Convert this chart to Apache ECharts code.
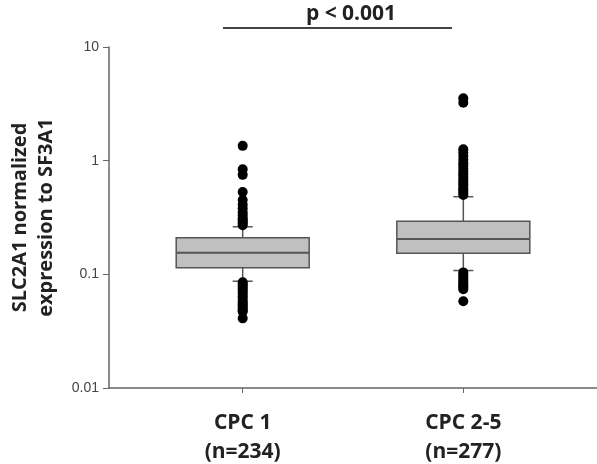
<!DOCTYPE html>
<html lang="en">

<head>
    <meta charset="UTF-8">
    <title>SLC2A1 boxplot</title>
    <script src="https://cdn.jsdelivr.net/npm/echarts@6/dist/echarts.min.js"></script>
</head>

<body style="margin:0;background-color:#fff;">
    <div id="main" style="position:absolute;left:0;top:0;width:597px;height:464px"></div>

    <script>
        // groups and their x position
        var groups = ['CPC 1', 'CPC 2-5'];
        var groupN = ['(n=234)', '(n=277)'];
        var groupX = [1, 2];
        // [lower whisker, Q1, median, Q3, upper whisker]
        var boxCPC1 = [0.087, 0.114, 0.155, 0.210, 0.262];
        var boxCPC25 = [0.108, 0.153, 0.205, 0.293, 0.482];
        // outliers
        var outCPC1 = [1.35, 0.84, 0.75, 0.53, 0.45, 0.41, 0.38, 0.35, 0.33, 0.31, 0.30, 0.29, 0.28, 0.27,
            0.085, 0.082, 0.079, 0.076, 0.073, 0.070, 0.067, 0.064, 0.061, 0.058, 0.056, 0.054, 0.052, 0.050, 0.048, 0.047, 0.041];
        var outCPC25 = [3.54, 3.24, 1.26, 1.18, 1.10, 1.02, 0.95, 0.90, 0.85, 0.80, 0.76, 0.72, 0.68, 0.65, 0.62, 0.59, 0.56, 0.54, 0.52, 0.50,
            0.104, 0.099, 0.095, 0.091, 0.087, 0.083, 0.080, 0.077, 0.074, 0.058];

        var boxData = [[groupX[0]].concat(boxCPC1), [groupX[1]].concat(boxCPC25)];
        var outData = [];
        outCPC1.forEach(v => outData.push([groupX[0], v]));
        outCPC25.forEach(v => outData.push([groupX[1], v]));

        var lineStyle = { stroke: '#555', lineWidth: 1.5 };

        var myCharts = echarts.init(document.getElementById('main'));
        myCharts.setOption({
            animation: false,
            title: {
                text: 'p < 0.001',
                left: 346,
                textAlign: 'center',
                top: -1,
                textStyle: { fontFamily: 'Open Sans', fontWeight: 'bold', fontSize: 21, color: '#222' }
            },
            graphic: [{
                type: 'line',
                shape: { x1: 223, y1: 28, x2: 452, y2: 28 },
                style: { stroke: '#444', lineWidth: 2 }
            }],
            grid: { left: 109, right: 0, top: 47, bottom: 76, outerBoundsMode: 'none', containLabel: false },
            xAxis: {
                type: 'value',
                min: 0.394,
                max: 2.606,
                splitLine: { show: false },
                axisLine: { lineStyle: { color: '#666', width: 1.5 } },
                axisTick: { customValues: groupX, length: 5, lineStyle: { color: '#666' } },
                axisLabel: {
                    customValues: groupX,
                    margin: 21,
                    lineHeight: 29,
                    fontFamily: 'Open Sans',
                    fontWeight: 'bold',
                    fontSize: 21,
                    color: '#222',
                    formatter: function(v) {
                        var i = groupX.indexOf(Math.round(v));
                        return i < 0 ? '' : groups[i] + '\n' + groupN[i];
                    }
                }
            },
            yAxis: {
                type: 'log',
                logBase: 10,
                min: 0.01,
                max: 10,
                name: 'SLC2A1 normalized\nexpression to SF3A1',
                nameLocation: 'middle',
                nameGap: 50,
                nameTextStyle: { fontFamily: 'Open Sans', fontWeight: 'bold', fontSize: 20, color: '#222', lineHeight: 26 },
                splitLine: { show: false },
                axisLine: { show: true, lineStyle: { color: '#666', width: 1.5 } },
                axisTick: { show: true, length: 6, lineStyle: { color: '#666' } },
                axisLabel: {
                    margin: 10,
                    fontFamily: 'Liberation Sans',
                    fontSize: 14,
                    color: '#444',
                    formatter: function(v) { return String(+v.toPrecision(3)); }
                }
            },
            series: [{
                type: 'custom',
                data: boxData,
                encode: { x: 0, y: [1, 2, 3, 4, 5] },
                renderItem: function(params, api) {
                    var x = api.value(0);
                    var pLo = api.coord([x, api.value(1)]);
                    var pQ1 = api.coord([x, api.value(2)]);
                    var pMed = api.coord([x, api.value(3)]);
                    var pQ3 = api.coord([x, api.value(4)]);
                    var pHi = api.coord([x, api.value(5)]);
                    var cx = pQ1[0], hw = 66.5, cap = 10;
                    return {
                        type: 'group',
                        children: [
                            { type: 'line', shape: { x1: cx, y1: pQ1[1], x2: cx, y2: pLo[1] }, style: lineStyle },
                            { type: 'line', shape: { x1: cx, y1: pQ3[1], x2: cx, y2: pHi[1] }, style: lineStyle },
                            { type: 'line', shape: { x1: cx - cap, y1: pLo[1], x2: cx + cap, y2: pLo[1] }, style: lineStyle },
                            { type: 'line', shape: { x1: cx - cap, y1: pHi[1], x2: cx + cap, y2: pHi[1] }, style: lineStyle },
                            { type: 'rect', shape: { x: cx - hw, y: pQ3[1], width: hw * 2, height: pQ1[1] - pQ3[1] },
                              style: { fill: '#c0c0c0', stroke: '#555', lineWidth: 1.5 } },
                            { type: 'line', shape: { x1: cx - hw, y1: pMed[1], x2: cx + hw, y2: pMed[1] }, style: { stroke: '#555', lineWidth: 2 } }
                        ]
                    };
                },
                z: 2
            }, {
                type: 'scatter',
                data: outData,
                symbolSize: 10,
                itemStyle: { color: '#000', opacity: 1 },
                z: 3
            }]
        });
    </script>
</body>

</html>
